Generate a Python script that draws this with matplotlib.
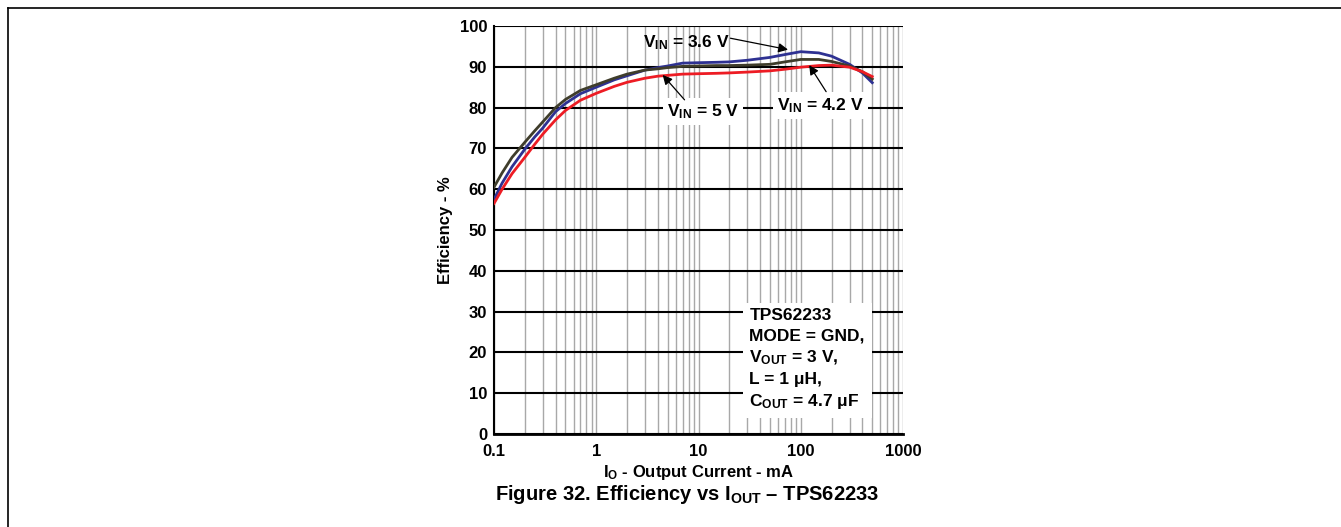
"""Efficiency vs output current, TPS62233 (datasheet Figure 32 re-plot)."""
import matplotlib
matplotlib.use("Agg")
import matplotlib.pyplot as plt
from matplotlib.lines import Line2D
from matplotlib.ticker import FixedLocator, LogLocator, NullFormatter

plt.rcParams["font.family"] = ["Liberation Sans", "DejaVu Sans"]
plt.rcParams["font.weight"] = "bold"
plt.rcParams["axes.labelweight"] = "bold"
plt.rcParams["mathtext.fontset"] = "custom"
plt.rcParams["mathtext.rm"] = "Liberation Sans:bold"
plt.rcParams["mathtext.bf"] = "Liberation Sans:bold"
plt.rcParams["mathtext.it"] = "Liberation Sans:bold"

# output current, mA
I_OUT = [0.1, 0.12, 0.15, 0.2, 0.25, 0.3, 0.4, 0.5, 0.7, 1, 1.5, 2, 3, 4, 5, 7,
         10, 15, 20, 30, 50, 70, 100, 150, 200, 300, 400, 500]
# efficiency, %
EFF_36V = [57.5, 61.5, 65.5, 69.8, 72.8, 75.0, 79.0, 81.0, 83.4, 85.0, 86.8, 87.8,
           89.2, 89.8, 90.2, 90.9, 91.0, 91.1, 91.2, 91.6, 92.3, 93.0, 93.7, 93.4,
           92.6, 90.6, 88.5, 86.1]
EFF_42V = [60.5, 64.0, 67.8, 71.5, 74.3, 76.5, 80.0, 82.0, 84.2, 85.6, 87.2, 88.2,
           89.2, 89.5, 89.8, 90.1, 90.2, 90.3, 90.3, 90.4, 90.6, 91.2, 91.8, 91.8,
           91.3, 90.2, 88.8, 87.0]
EFF_5V = [56.5, 60.0, 63.8, 67.8, 71.0, 73.5, 77.0, 79.3, 81.8, 83.5, 85.2, 86.2,
          87.2, 87.7, 87.9, 88.2, 88.3, 88.4, 88.5, 88.7, 89.0, 89.4, 89.9, 90.3,
          90.4, 89.9, 88.8, 87.6]

SERIES = [  # values, colour
    (EFF_36V, "#2e3192"),
    (EFF_42V, "#3f3d2b"),
    (EFF_5V, "#ed1c24"),
]

fig = plt.figure(figsize=(13.41, 5.27), dpi=100)
ax = fig.add_axes([0.3684, 0.1765, 0.305, 0.7742])

for vals, color in SERIES:
    ax.plot(I_OUT, vals, color=color, lw=2.0, zorder=4)

ax.set_xscale("log")
ax.set_xlim(0.1, 1000)
ax.set_ylim(0, 100)
ax.xaxis.set_major_locator(FixedLocator([0.1, 1, 10, 100, 1000]))
ax.xaxis.set_major_formatter(plt.FuncFormatter(lambda v, _: f"{v:g}"))
ax.xaxis.set_minor_locator(LogLocator(base=10, subs=range(2, 10)))
ax.xaxis.set_minor_formatter(NullFormatter())
ax.set_yticks(range(0, 101, 10))
ax.tick_params(which="both", length=0, labelsize=12)
ax.tick_params(axis="y", pad=5)
ax.tick_params(axis="x", pad=7)

ax.grid(axis="x", which="both", color="#a8a8a8", lw=1.0, zorder=1)
ax.grid(axis="y", which="major", color="black", lw=1.5, zorder=1)
ax.set_axisbelow(True)
for side in ("top", "right"):
    ax.spines[side].set_visible(False)
ax.spines["left"].set_linewidth(1.5)
ax.spines["bottom"].set_linewidth(2.0)

ax.set_ylabel("Efficiency - %", fontsize=12, labelpad=5)
ax.set_xlabel(r"I$_\mathrm{O}$ - Output Current - mA", fontsize=12, labelpad=3)

arrow = dict(arrowstyle="-|>", color="black", lw=0.9, mutation_scale=14,
             shrinkA=0, shrinkB=0)
ax.text(2.84, 94.8, r"V$_\mathrm{IN}$ = 3.6 V", fontsize=12.5, ha="left",
        va="baseline", zorder=6)
ax.annotate("", xy=(75, 94.2), xytext=(20.5, 97.0), arrowprops=arrow, zorder=6)

ax.text(4.9, 77.9, r"V$_\mathrm{IN}$ = 5 V", fontsize=12.5, ha="left",
        va="baseline", zorder=6,
        bbox=dict(facecolor="white", edgecolor="none", pad=3))
ax.annotate("", xy=(4.46, 88.0), xytext=(7.3, 81.9), arrowprops=arrow, zorder=6)

ax.text(59, 79.4, r"V$_\mathrm{IN}$ = 4.2 V", fontsize=12.5, ha="left",
        va="baseline", zorder=6,
        bbox=dict(facecolor="white", edgecolor="none", pad=3))
ax.annotate("", xy=(121, 90.4), xytext=(177, 83.9), arrowprops=arrow, zorder=6)

info = ("TPS62233\nMODE = GND,\n" r"V$_\mathrm{OUT}$ = 3 V," "\n"
        "L = 1 μH,\n" r"C$_\mathrm{OUT}$ = 4.7 μF")
ax.text(31.5, 30.8, info, fontsize=12.5, ha="left", va="top", linespacing=1.4,
        zorder=6, bbox=dict(facecolor="white", edgecolor="none", pad=5))

fig.text(0.512, 0.0512, r"Figure 32. Efficiency vs I$_\mathrm{OUT}$ – TPS62233",
         fontsize=14.5, ha="center", va="baseline")

# page frame (top and left rule)
fig.add_artist(Line2D([8 / 1341, 1], [1 - 8 / 527, 1 - 8 / 527],
                      transform=fig.transFigure, color="black", lw=1.2))
fig.add_artist(Line2D([8 / 1341, 8 / 1341], [0, 1 - 8 / 527],
                      transform=fig.transFigure, color="black", lw=1.2))

fig.savefig("out.png", dpi=100)
